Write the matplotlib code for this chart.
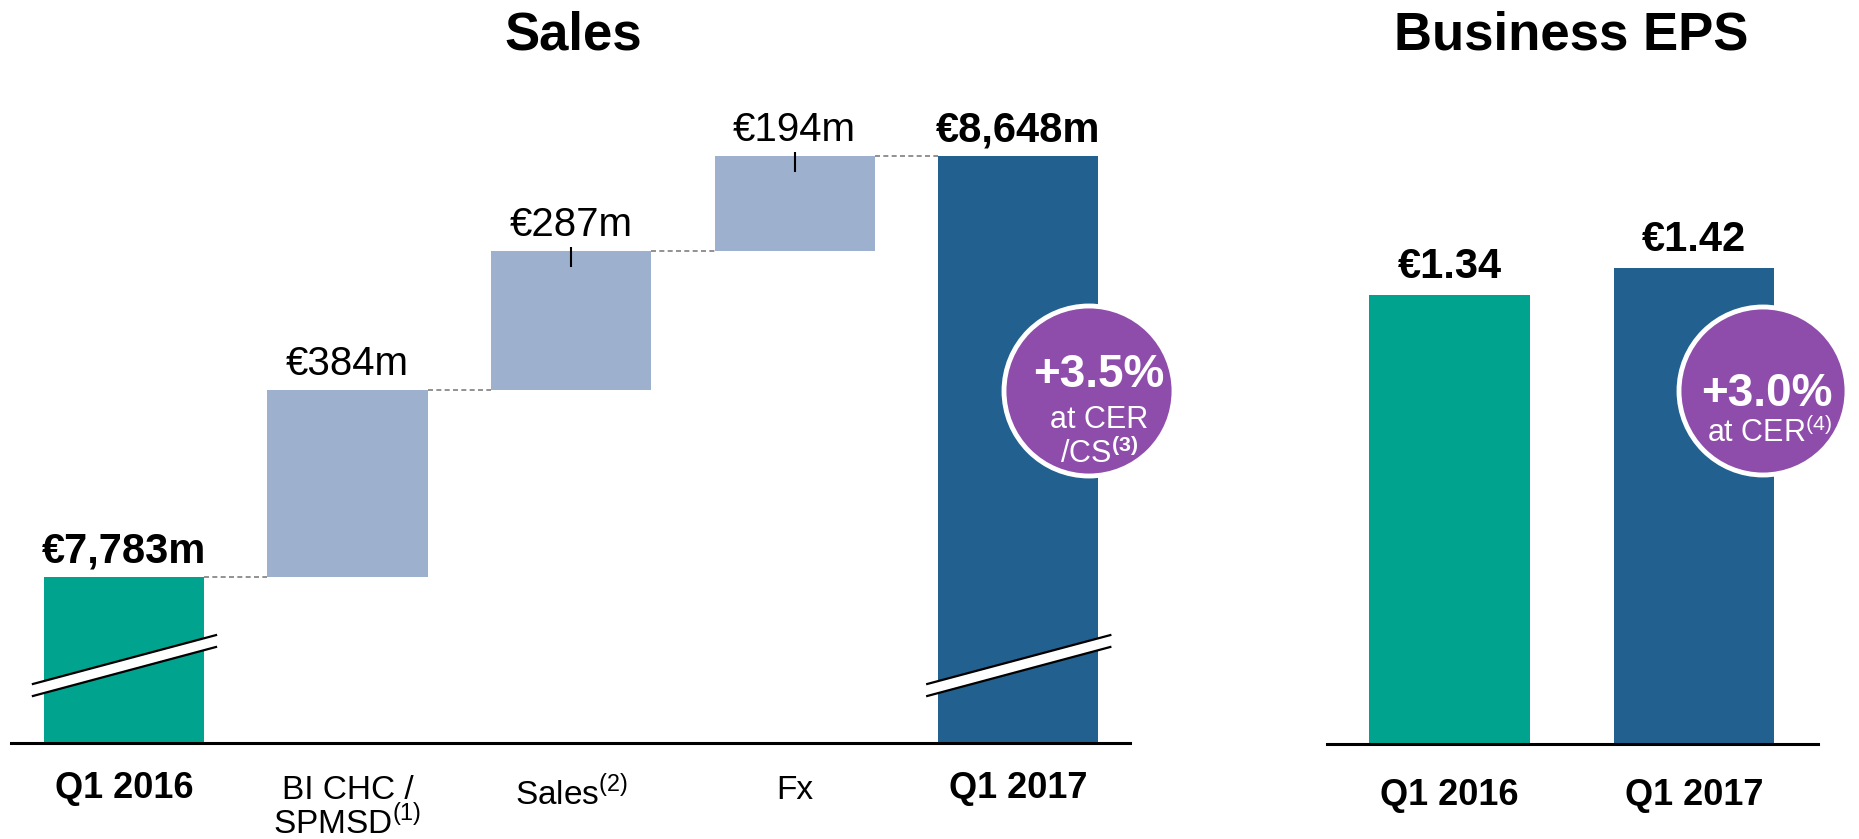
import matplotlib
matplotlib.use('Agg')
import matplotlib.pyplot as plt
from matplotlib.patches import Circle, Polygon
import numpy as np

plt.rcParams['font.family'] = ['Liberation Sans', 'DejaVu Sans']
plt.rcParams['mathtext.fontset'] = 'custom'
plt.rcParams['mathtext.rm'] = 'Liberation Sans'
plt.rcParams['mathtext.bf'] = 'Liberation Sans:bold'

# data
sales_labels = ['Q1 2016', 'BI CHC /\nSPMSD$^{(1)}$', 'Sales$^{(2)}$', 'Fx', 'Q1 2017']
sales_start = 7783
sales_steps = [384, 287, 194]
sales_end = 8648
eps_labels = ['Q1 2016', 'Q1 2017']
eps_values = [1.34, 1.42]
sales_growth = ['+3.5%', 'at CER', '/CS$^{\\mathbf{(3)}}$']
eps_growth = ['+3.0%', 'at CER$^{(4)}$']

teal = '#00A48E'
dark_blue = '#22618F'
light_blue = '#9DB0CE'
purple = '#8F4DAB'

W, H = 1859, 839
fig = plt.figure(figsize=(W / 100, H / 100), dpi=100)

# ---------------- Sales waterfall ----------------
ax = fig.add_axes([11 / W, (H - 743) / H, 1119 / W, 683 / H])
ax.set_xlim(-0.505, 4.5)
ax.set_ylim(7441, 8846)
bw = 0.716

levels = np.cumsum([sales_start] + sales_steps)
ax.bar(0, sales_start, width=bw, color=teal, zorder=2)
for i, step in enumerate(sales_steps):
    ax.bar(i + 1, step, bottom=levels[i], width=bw, color=light_blue, zorder=2)
ax.bar(4, sales_end, width=bw, color=dark_blue, zorder=2)

# dashed connectors
conn = list(levels)
for i in range(4):
    ax.plot([i + bw / 2, i + 1 - bw / 2], [conn[i], conn[i]], ls=(0, (3, 2)),
            color='#7F7F7F', lw=1.2, zorder=1)

# value labels
ax.annotate(f'€{sales_start:,}m', (0, sales_start), xytext=(0, 4),
            textcoords='offset points', ha='center', va='bottom',
            fontsize=30, fontweight='bold')
for i, step in enumerate(sales_steps):
    ax.annotate(f'€{step}m', (i + 1, levels[i + 1]), xytext=(0, 5),
                textcoords='offset points', ha='center', va='bottom', fontsize=29)
ax.annotate(f'€{sales_end:,}m', (4, sales_end), xytext=(0, 4),
            textcoords='offset points', ha='center', va='bottom',
            fontsize=30, fontweight='bold')

# small tick lines on the last two steps
for i in [2, 3]:
    ax.vlines(i, levels[i] - 33, levels[i] + 8, color='black', lw=1.5, zorder=3)

# axis break marks on the full bars
tr = ax.get_xaxis_transform()
for i in [0, 4]:
    x0, x1 = i - 0.407, i + 0.412
    poly = Polygon([[x0, 0.0688], [x1, 0.1406], [x1, 0.158], [x0, 0.0864]],
                   closed=True, transform=tr, facecolor='white', edgecolor='none', zorder=4)
    ax.add_patch(poly)
    ax.plot([x0, x1], [0.0864, 0.158], transform=tr, color='black', lw=1.6, zorder=5)
    ax.plot([x0, x1], [0.0688, 0.1406], transform=tr, color='black', lw=1.6, zorder=5)

for s in ['top', 'left', 'right']:
    ax.spines[s].set_visible(False)
ax.spines['bottom'].set_linewidth(2.2)
ax.spines['bottom'].set_zorder(6)
ax.set_xticks([])
ax.set_yticks([])
for i, lab in enumerate(sales_labels):
    if i in (0, 4):
        ax.text(i, -0.041, lab, transform=tr, ha='center', va='top',
                fontsize=26, fontweight='bold')
    else:
        ax.text(i, -0.047, lab, transform=tr, ha='center', va='top', fontsize=24,
                linespacing=0.95)

# ---------------- Business EPS ----------------
ax2 = fig.add_axes([1327 / W, (H - 744) / H, 491 / W, 684 / H])
ax2.set_xlim(-0.501, 1.507)
ax2.set_ylim(0, 2.042)
ax2.bar([0, 1], eps_values, width=0.656, color=[teal, dark_blue], zorder=2)
for i, v in enumerate(eps_values):
    ax2.annotate(f'€{v:.2f}', (i, v), xytext=(0, 6), textcoords='offset points',
                 ha='center', va='bottom', fontsize=30, fontweight='bold')
for s in ['top', 'left', 'right']:
    ax2.spines[s].set_visible(False)
ax2.spines['bottom'].set_linewidth(2.2)
ax2.set_xticks([])
ax2.set_yticks([])
tr2 = ax2.get_xaxis_transform()
for i, lab in enumerate(eps_labels):
    ax2.text(i, -0.049, lab, transform=tr2, ha='center', va='top',
             fontsize=26, fontweight='bold')

# titles
fig.text(573 / W, 1 - 36 / H, 'Sales', ha='center', va='center', fontsize=38, fontweight='bold')
fig.text(1571 / W, 1 - 36 / H, 'Business EPS', ha='center', va='center', fontsize=38, fontweight='bold')

# growth circles (pixel positions via inches)
pt = fig.dpi_scale_trans
c1 = Circle((1089 / 100, (H - 391) / 100), 0.85, transform=pt, facecolor=purple,
            edgecolor='white', lw=3.5, zorder=10)
c2 = Circle((1763 / 100, (H - 391) / 100), 0.84, transform=pt, facecolor=purple,
            edgecolor='white', lw=3.5, zorder=10)
fig.add_artist(c1)
fig.add_artist(c2)

fig.text(1099 / 100, (H - 375) / 100, sales_growth[0], transform=pt, ha='center', va='center',
         fontsize=33, fontweight='bold', color='white', zorder=11)
fig.text(1099 / 100, (H - 420) / 100, sales_growth[1], transform=pt, ha='center', va='center',
         fontsize=22, color='white', zorder=11)
fig.text(1099 / 100, (H - 454) / 100, sales_growth[2], transform=pt, ha='center', va='center',
         fontsize=22, color='white', zorder=11)
fig.text(1767 / 100, (H - 394) / 100, eps_growth[0], transform=pt, ha='center', va='center',
         fontsize=33, fontweight='bold', color='white', zorder=11)
fig.text(1770 / 100, (H - 433) / 100, eps_growth[1], transform=pt, ha='center', va='center',
         fontsize=22, color='white', zorder=11)

fig.savefig('out.png', dpi=100)
